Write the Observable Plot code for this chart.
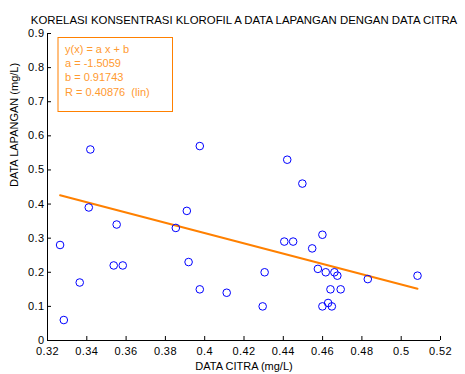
<!DOCTYPE html>
<html>
<head>
<meta charset="utf-8">
<script src="https://cdn.jsdelivr.net/npm/d3@7"></script>
<script src="https://cdn.jsdelivr.net/npm/@observablehq/plot@0.6"></script>
<style>
  html, body { margin: 0; padding: 0; background: #fff; }
  svg { display: block; }
</style>
</head>
<body>
<div id="chart"></div>
<script>
const citra = [0.3264, 0.3283, 0.3364, 0.3537, 0.3583, 0.3918, 0.3975, 0.4112,
  0.3418, 0.3975, 0.3410, 0.3552, 0.3909, 0.3853,
  0.4420, 0.4497, 0.4599, 0.4405, 0.4450, 0.4547, 0.4305, 0.4576, 0.4616, 0.4660,
  0.4675, 0.4830, 0.5083, 0.4640, 0.4692, 0.4295, 0.4628, 0.4599, 0.4647];
const lapangan = [0.28, 0.06, 0.17, 0.22, 0.22, 0.23, 0.15, 0.14,
  0.56, 0.57, 0.39, 0.34, 0.38, 0.33,
  0.53, 0.46, 0.31, 0.29, 0.29, 0.27, 0.20, 0.21, 0.20, 0.20,
  0.19, 0.18, 0.19, 0.15, 0.15, 0.10, 0.11, 0.10, 0.10];
const fitA = -1.5059;
const fitB = 0.91743;
const fitR = 0.40876;
const legendLines = ["y(x) = a x + b", "a = -1.5059", "b = 0.91743", "R = 0.40876  (lin)"];
const xTicks = [0.32, 0.34, 0.36, 0.38, 0.40, 0.42, 0.44, 0.46, 0.48, 0.50, 0.52];
const yTicks = [0, 0.1, 0.2, 0.3, 0.4, 0.5, 0.6, 0.7, 0.8, 0.9];
const titleText = "KORELASI KONSENTRASI KLOROFIL A DATA LAPANGAN DENGAN DATA CITRA";
const xLabel = "DATA CITRA (mg/L)";
const yLabel = "DATA LAPANGAN (mg/L)";

const points = citra.map((x, i) => ({x, y: lapangan[i]}));
const xMin = d3.min(citra), xMax = d3.max(citra);
const fitLine = [xMin, xMax].map(x => ({x, y: fitA * x + fitB}));
const fmt = d => String(+d.toFixed(2));

const blue = "#0000ff";
const orange = "#ff8000";
const font = "'Liberation Sans', Arial, sans-serif";

const plot = Plot.plot({
  width: 465,
  height: 374,
  marginLeft: 47,
  marginRight: 25,
  marginTop: 33,
  marginBottom: 34,
  style: {fontFamily: font, fontSize: "11px", color: "#000", background: "#fff"},
  x: {domain: [0.32, 0.52]},
  y: {domain: [0, 0.9]},
  marks: [
    Plot.axisX({ticks: xTicks, tickFormat: fmt, tickSize: -4, tickPadding: 11, label: null, fontSize: 11}),
    Plot.axisY({ticks: yTicks, tickFormat: fmt, tickSize: -4, tickPadding: 7, label: null, fontSize: 11}),
    Plot.ruleX([0.32], {stroke: "#000"}),
    Plot.ruleY([0], {stroke: "#000"}),
    Plot.line(fitLine, {x: "x", y: "y", stroke: orange, strokeWidth: 2}),
    Plot.dot(points, {x: "x", y: "y", r: 3.8, stroke: blue, fill: "none", strokeWidth: 1}),
    Plot.text([titleText], {frameAnchor: "top", dy: -13, lineAnchor: "middle", fontSize: 11.4, fill: "#000"}),
    Plot.text([xLabel], {frameAnchor: "bottom", dy: 26, lineAnchor: "middle", fontSize: 11, fill: "#000"}),
    Plot.text([yLabel], {frameAnchor: "left", dx: -33, rotate: -90, lineAnchor: "middle", fontSize: 11, fill: "#000"})
  ]
});

const svg = d3.select(plot);
// slightly wider glyph spacing, as in the reference rendering
svg.selectAll("g[aria-label='x-axis tick label'] text, g[aria-label='y-axis tick label'] text")
  .style("letter-spacing", "0.4px");

// fit annotation box, placed relative to plot frame
const g = svg.append("g")
  .attr("font-family", font).attr("font-size", 11).attr("text-anchor", "start");
g.append("rect")
  .attr("x", 58).attr("y", 37.5).attr("width", 114.5).attr("height", 74)
  .attr("fill", "#fff").attr("stroke", orange).attr("stroke-width", 1);
legendLines.forEach((t, i) => {
  g.append("text").attr("x", 65).attr("y", 53 + i * 14.2)
    .attr("text-anchor", "start")
    .attr("fill", "#ff9a30").text(t);
});

document.getElementById("chart").appendChild(plot);
</script>
</body>
</html>
